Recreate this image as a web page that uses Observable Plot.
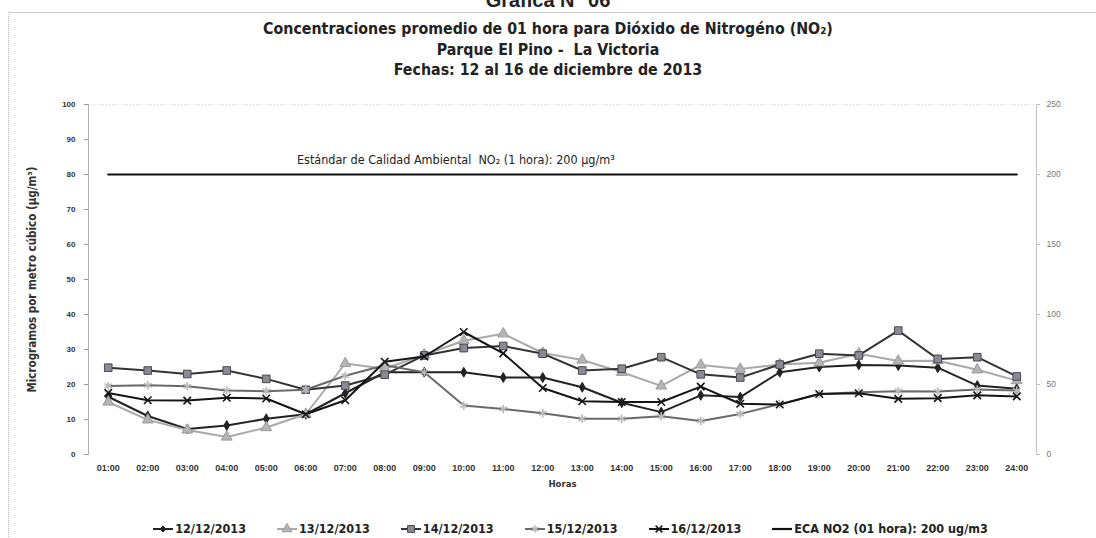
<!DOCTYPE html>
<html><head><meta charset="utf-8">
<script src="https://cdn.jsdelivr.net/npm/d3@7"></script>
<script src="https://cdn.jsdelivr.net/npm/@observablehq/plot@0.6"></script>
<style>
body{margin:0;background:#fff;}
#page{position:relative;width:1096px;height:538px;overflow:hidden;background:#fff;}
#frame{position:absolute;left:8px;top:12px;width:1100px;height:540px;border-top:1px solid #c8c8c8;border-left:1px dotted #bbb;}
#gtitle{position:absolute;left:0;width:1096px;top:-11px;text-align:center;font:bold 20px "Liberation Sans",Arial,sans-serif;color:#222;}
#titles{position:absolute;left:0;top:19px;width:1096px;text-align:center;font-family:"Liberation Sans Narrow","DejaVu Sans Condensed",sans-serif;font-weight:bold;font-size:15.8px;line-height:20.5px;color:#222;}
#chart{position:absolute;left:0;top:85px;}
#legend{position:absolute;left:0;top:521px;width:1096px;display:flex;justify-content:center;gap:30px;font-family:"Liberation Sans Narrow","DejaVu Sans Condensed",sans-serif;font-weight:bold;font-size:12.5px;color:#222;padding-left:44px;box-sizing:border-box;}
.li{display:flex;align-items:center;gap:1px;}
</style></head>
<body><div id="page">
<div id="gtitle">Gráfica N° 06</div>
<div id="frame"></div>
<div id="titles">
<div>Concentraciones promedio de 01 hora para Dióxido de Nitrogéno (NO₂)</div>
<div>Parque El Pino -&nbsp; La Victoria</div>
<div>Fechas: 12 al 16 de diciembre de 2013</div>
</div>
<div id="chart"></div>
<div id="legend"></div>
</div>
<script>
const hours = ["01:00","02:00","03:00","04:00","05:00","06:00","07:00","08:00","09:00","10:00","11:00","12:00","13:00","14:00","15:00","16:00","17:00","18:00","19:00","20:00","21:00","22:00","23:00","24:00"];
const seriesNames = ["12/12/2013","13/12/2013","14/12/2013","15/12/2013","16/12/2013"];
const s1212 = [16.5,11,7.3,8.3,10.2,11.5,17.5,23.5,23.5,23.5,22,22,19.2,14.8,12.1,16.9,16.4,23.5,25,25.6,25.4,24.8,19.7,18.8];
const s1312 = [15,9.9,7,5,7.7,11.5,26,24.5,28.5,32.5,34.5,29,27,23.5,19.6,25.6,24.4,25.7,26.2,28.8,26.7,26.8,24.2,21.1];
const s1412 = [24.8,24,23,24,21.6,18.5,19.7,22.8,28.3,30.4,31,28.8,24,24.5,27.8,22.9,22,25.7,28.8,28.3,35.4,27.3,27.8,22.3];
const s1512 = [19.6,19.8,19.5,18.3,18.1,18.5,22.5,25.5,23.5,14,13,11.8,10.2,10.2,10.9,9.6,11.6,14.4,17.3,17.8,18.1,18,18.6,18.3];
const s1612 = [17.6,15.5,15.4,16.2,16,11.5,15.5,26.5,28,35,28.9,19,15.2,15,15,19.4,14.5,14.3,17.3,17.5,15.9,16.1,16.9,16.6];
const ecaValue = 80;
const ecaName = "ECA NO2 (01 hora): 200 ug/m3";
const ecaLabel = "Estándar de Calidad Ambiental  NO₂ (1 hora): 200 µg/m³";
const leftTicks = [0,10,20,30,40,50,60,70,80,90,100];
const rightTicks = [0,50,100,150,200,250];

const allSeries = [s1212,s1312,s1412,s1512,s1612];
const styles = [
  {line:"#222", symbol:"diamond", fill:"#222", stroke:"#222", r:3},
  {line:"#a9a9a9", symbol:"triangle", fill:"#b4b4b4", stroke:"#9a9a9a", r:4},
  {line:"#333", symbol:"square", fill:"#8a8a97", stroke:"#4a4a4a", r:4.3},
  {line:"#6a6a6a", symbol:"asterisk", fill:"none", stroke:"#b8b8c0", r:4},
  {line:"#151515", symbol:"times", fill:"none", stroke:"#151515", r:3.5}
];
const rows = allSeries.map((arr,k)=>arr.map((v,i)=>({h:i+1, v, s:seriesNames[k]})));
const ecaRows = hours.map((h,i)=>({h:i+1, v:ecaValue}));
const font = '"Liberation Sans", Arial, sans-serif';
const narrow = '"Liberation Sans Narrow","DejaVu Sans Condensed",sans-serif';

const marks = [
  Plot.ruleY([100],{stroke:"#d0d0d0", strokeDasharray:"1,2"}),
  Plot.frame({anchor:"left", stroke:"#b0b0b0"}),
  Plot.frame({anchor:"right", stroke:"#c4c4cc"}),
  Plot.axisY(leftTicks,{anchor:"left", tickSize:4, tickPadding:9, fontSize:8, fontWeight:"bold", stroke:"#999", fill:"#333", label:null}),
  Plot.axisY(rightTicks.map(v=>v*ecaValue/200),{anchor:"right", tickSize:3, tickPadding:7, tickFormat:d=>Math.round(d*200/ecaValue), fontSize:8.5, stroke:"#bbb", fill:"#777", label:null}),
  Plot.axisX(d3.range(1,25),{tickSize:0, tickPadding:10, tickFormat:i=>hours[i-1], fontSize:9, fontWeight:"bold", fill:"#333", label:null}),
  Plot.text(["Horas"],{frameAnchor:"bottom", dy:32, fontSize:9.5, fontWeight:"bold", fill:"#333", fontFamily:narrow}),
  Plot.text(["Microgramos por metro cúbico (µg/m³)"],{frameAnchor:"left", textAnchor:"middle", rotate:-90, dx:-56, fontSize:11.5, fontWeight:"bold", fill:"#333", fontFamily:narrow}),
  Plot.line(ecaRows,{x:"h", y:"v", stroke:"#111", strokeWidth:2.2}),
  Plot.text([ecaLabel],{x:()=>9.8, y:()=>ecaValue, dy:-15, fontSize:12.5, fill:"#222", fontFamily:narrow})
];
rows.forEach((data,k)=>{
  const st = styles[k];
  marks.push(Plot.line(data,{x:"h", y:"v", stroke:st.line, strokeWidth:2}));
  marks.push(Plot.dot(data,{x:"h", y:"v", symbol:()=>st.symbol, r:st.r, fill:st.fill, stroke:st.stroke, strokeWidth:st.fill==="none"?1.6:1}));
});

const chart = Plot.plot({
  width:1096, height:415,
  marginLeft:88, marginRight:60, marginTop:19, marginBottom:46,
  x:{domain:[0.5,24.5], axis:null},
  y:{domain:[0,100], axis:null},
  symbol:{type:"identity"},
  style:{fontFamily:font, background:"transparent", overflow:"visible"},
  marks
});
document.getElementById("chart").appendChild(chart);

// legend
const leg = document.getElementById("legend");
const legItems = seriesNames.map((n,k)=>({name:n, st:styles[k]})).concat([{name:ecaName, st:null}]);
legItems.forEach(it=>{
  const div = document.createElement("div"); div.className="li";
  const svg = d3.create("svg").attr("width",22).attr("height",12);
  if(it.st){
    svg.append("line").attr("x1",1).attr("x2",21).attr("y1",6).attr("y2",6).attr("stroke",it.st.line).attr("stroke-width",2);
    const sym = {diamond:d3.symbolDiamond2, triangle:d3.symbolTriangle, square:d3.symbolSquare, asterisk:d3.symbolAsterisk, times:d3.symbolTimes}[it.st.symbol];
    svg.append("path").attr("d",d3.symbol(sym, Math.PI*Math.pow(it.st.r*0.9,2))()).attr("transform","translate(11,6)")
      .attr("fill",it.st.fill).attr("stroke",it.st.stroke).attr("stroke-width",it.st.fill==="none"?1.5:1);
  } else {
    svg.append("line").attr("x1",1).attr("x2",21).attr("y1",6).attr("y2",6).attr("stroke","#111").attr("stroke-width",2.2);
  }
  div.appendChild(svg.node());
  const sp = document.createElement("span"); sp.textContent = it.name; div.appendChild(sp);
  leg.appendChild(div);
});
</script>
</body></html>
